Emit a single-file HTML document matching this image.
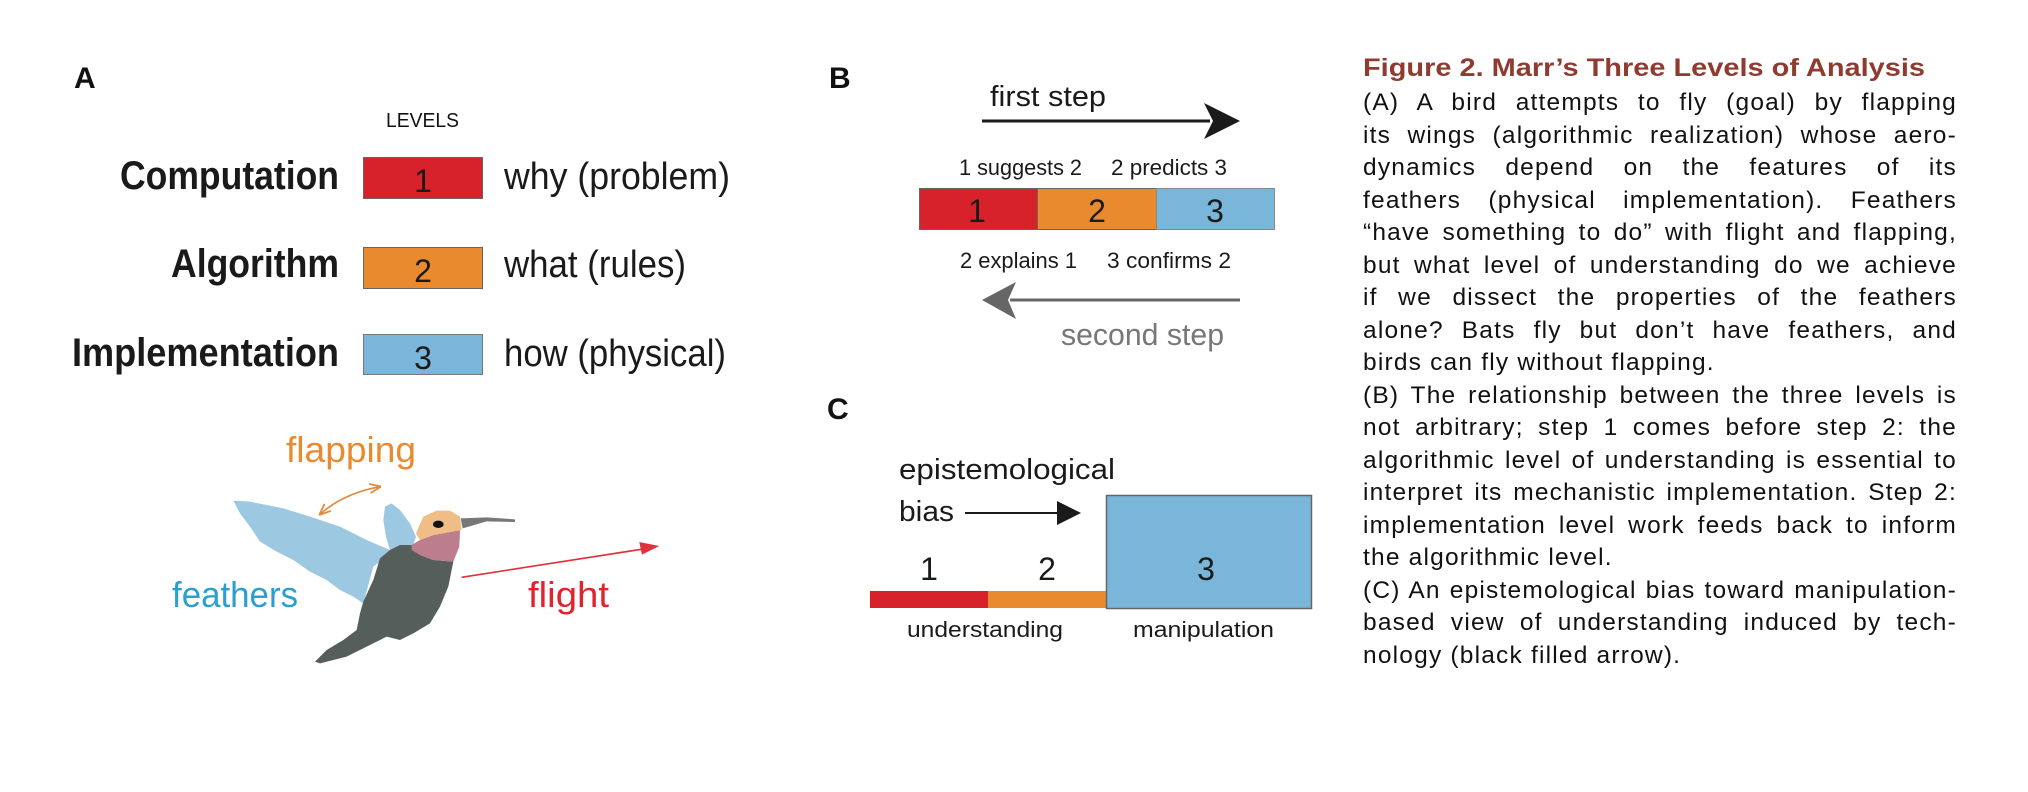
<!DOCTYPE html>
<html><head><meta charset="utf-8"><title>Marr's Three Levels of Analysis</title>
<style>
html,body{margin:0;padding:0;background:#fff;}
body{position:relative;width:2028px;height:792px;overflow:hidden;}
svg{display:block;position:absolute;left:0;top:0;}
text{font-family:"Liberation Sans",Arial,sans-serif;}
.cap{position:absolute;left:1363px;width:594px;font-family:"Liberation Sans",Arial,sans-serif;font-size:24.5px;line-height:32.5px;letter-spacing:1.2px;color:#111;}
.cap div{height:32.5px;text-align:justify;text-align-last:justify;white-space:nowrap;}
.cap div.l{text-align-last:left;}
</style></head>
<body>
<svg width="2028" height="792" viewBox="0 0 2028 792" xmlns="http://www.w3.org/2000/svg">
<defs>
<marker id="oh" viewBox="0 0 10 10" refX="9" refY="5" markerWidth="7" markerHeight="7" orient="auto-start-reverse"><path d="M0,1 L10,5 L0,9" fill="none" stroke="#e08a3c" stroke-width="1.5"/></marker>
</defs>

<g>
<text x="74" y="88" font-size="30" font-weight="bold" fill="#111">A</text>
<text x="386" y="127" font-size="20" fill="#111" textLength="73" lengthAdjust="spacingAndGlyphs">LEVELS</text>

<text x="339" y="189" font-size="40" font-weight="bold" fill="#1a1a1a" text-anchor="end" textLength="219" lengthAdjust="spacingAndGlyphs">Computation</text>
<rect x="363.5" y="157.5" width="119" height="41" fill="#d7222b" stroke="#666" stroke-width="1"/>
<text x="423" y="192" font-size="32" fill="#1a1a1a" text-anchor="middle">1</text>
<text x="504" y="189" font-size="38" fill="#1a1a1a" textLength="226" lengthAdjust="spacingAndGlyphs">why (problem)</text>

<text x="339" y="277" font-size="40" font-weight="bold" fill="#1a1a1a" text-anchor="end" textLength="168" lengthAdjust="spacingAndGlyphs">Algorithm</text>
<rect x="363.5" y="247.5" width="119" height="41" fill="#ea8a2f" stroke="#666" stroke-width="1"/>
<text x="423" y="282" font-size="32" fill="#1a1a1a" text-anchor="middle">2</text>
<text x="504" y="277" font-size="38" fill="#1a1a1a" textLength="182" lengthAdjust="spacingAndGlyphs">what (rules)</text>

<text x="339" y="366" font-size="40" font-weight="bold" fill="#1a1a1a" text-anchor="end" textLength="267" lengthAdjust="spacingAndGlyphs">Implementation</text>
<rect x="363.5" y="334.5" width="119" height="40" fill="#7ab6da" stroke="#777" stroke-width="1"/>
<text x="423" y="369" font-size="32" fill="#1a1a1a" text-anchor="middle">3</text>
<text x="504" y="366" font-size="38" fill="#1a1a1a" textLength="222" lengthAdjust="spacingAndGlyphs">how (physical)</text>

<text x="286" y="462" font-size="36" fill="#ea8a2f" textLength="130" lengthAdjust="spacingAndGlyphs">flapping</text>
<text x="172" y="607" font-size="36" fill="#2b9fd0" textLength="126" lengthAdjust="spacingAndGlyphs">feathers</text>
<text x="528" y="607" font-size="36" fill="#e0232d" textLength="81" lengthAdjust="spacingAndGlyphs">flight</text>
<g transform="translate(200,480) scale(0.3333)">
<path d="M360,103 Q430,40 540,20" fill="none" stroke="#e08a3c" stroke-width="5" marker-start="url(#oh)" marker-end="url(#oh)"/>
<path d="M100,62 L150,65 L250,85 L330,110 L420,140 L500,180 L570,210 L560,230 L520,260 L490,370 L460,350 L420,330 L380,300 L330,275 L280,240 L230,215 L180,185 L150,140 L120,100 Z" fill="#9dc8e1"/>
<path d="M555,80 L575,70 L600,90 L630,130 L648,170 L640,195 L600,210 L570,210 L558,170 L550,120 Z" fill="#9dc8e1"/>
<path d="M600,195 L635,195 L660,225 L700,240 L760,245 L745,320 L720,380 L690,430 L640,460 L600,480 L560,470 L500,500 L440,530 L360,550 L345,545 L380,510 L430,480 L470,450 L480,400 L490,365 L520,300 L540,235 L570,210 Z" fill="#555e5a"/>
<path d="M635,195 L660,180 L700,165 L740,158 L780,150 L778,200 L760,245 L700,240 L660,225 L635,210 Z" fill="#bc7d8c"/>
<path d="M648,160 L670,110 L710,92 L750,92 L780,110 L785,150 L740,158 L700,165 L660,180 Z" fill="#efbd85"/>
<ellipse cx="715" cy="133" rx="16" ry="11" fill="#111"/>
<path d="M782,115 L860,112 L945,118 L945,126 L860,124 L788,145 Z" fill="#777"/>
<line x1="785" y1="292" x2="1330" y2="207" stroke="#e0323a" stroke-width="5"/>
<path d="M1378,198 L1318,186 L1326,224 Z" fill="#e0323a"/>
</g>
</g>

<g>
<text x="829" y="88" font-size="30" font-weight="bold" fill="#111">B</text>
<text x="990" y="106" font-size="29" fill="#1a1a1a" textLength="116" lengthAdjust="spacingAndGlyphs">first step</text>
<line x1="982" y1="121" x2="1210" y2="121" stroke="#1a1a1a" stroke-width="3"/>
<path d="M1240,121 L1204,103 L1213,121 L1204,139 Z" fill="#1a1a1a"/>
<text x="959" y="175" font-size="22" fill="#1a1a1a" textLength="123" lengthAdjust="spacingAndGlyphs">1 suggests 2</text>
<text x="1111" y="175" font-size="22" fill="#1a1a1a" textLength="116" lengthAdjust="spacingAndGlyphs">2 predicts 3</text>
<rect x="919.5" y="188.5" width="118" height="41" fill="#d7222b" stroke="#666" stroke-width="1"/>
<rect x="1037.5" y="188.5" width="119" height="41" fill="#ea8a2f" stroke="#666" stroke-width="1"/>
<rect x="1156.5" y="188.5" width="118" height="41" fill="#7ab6da" stroke="#888" stroke-width="1"/>
<text x="977" y="222" font-size="32" fill="#1a1a1a" text-anchor="middle">1</text>
<text x="1097" y="222" font-size="32" fill="#1a1a1a" text-anchor="middle">2</text>
<text x="1215" y="222" font-size="32" fill="#1a1a1a" text-anchor="middle">3</text>
<text x="960" y="268" font-size="22" fill="#1a1a1a" textLength="117" lengthAdjust="spacingAndGlyphs">2 explains 1</text>
<text x="1107" y="268" font-size="22" fill="#1a1a1a" textLength="124" lengthAdjust="spacingAndGlyphs">3 confirms 2</text>
<line x1="1240" y1="300" x2="1010" y2="300" stroke="#666" stroke-width="3"/>
<path d="M982,300 L1016,282 L1008,300 L1016,319 Z" fill="#666"/>
<text x="1061" y="345" font-size="31" fill="#777" textLength="163" lengthAdjust="spacingAndGlyphs">second step</text>
</g>

<g>
<text x="827" y="419" font-size="30" font-weight="bold" fill="#111">C</text>
<text x="899" y="479" font-size="29" fill="#1a1a1a" textLength="216" lengthAdjust="spacingAndGlyphs">epistemological</text>
<text x="899" y="521" font-size="29" fill="#1a1a1a" textLength="55" lengthAdjust="spacingAndGlyphs">bias</text>
<line x1="965" y1="513" x2="1062" y2="513" stroke="#1a1a1a" stroke-width="2"/>
<path d="M1081,513 L1057,501 L1057,525 Z" fill="#1a1a1a"/>
<text x="929" y="580" font-size="32" fill="#1a1a1a" text-anchor="middle">1</text>
<text x="1047" y="580" font-size="32" fill="#1a1a1a" text-anchor="middle">2</text>
<rect x="870" y="591" width="118" height="17" fill="#d7222b"/>
<rect x="988" y="591" width="118" height="17" fill="#ea8a2f"/>
<rect x="1106.5" y="495.5" width="205" height="113" fill="#7ab6da" stroke="#666" stroke-width="1.5"/>
<text x="1206" y="580" font-size="32" fill="#1a1a1a" text-anchor="middle">3</text>
<text x="907" y="637" font-size="22" fill="#1a1a1a" textLength="156" lengthAdjust="spacingAndGlyphs">understanding</text>
<text x="1133" y="637" font-size="22" fill="#1a1a1a" textLength="141" lengthAdjust="spacingAndGlyphs">manipulation</text>
</g>

<text x="1363" y="76" font-size="25" font-weight="bold" fill="#8f3b30" textLength="562" lengthAdjust="spacingAndGlyphs">Figure 2.  Marr’s Three Levels of Analysis</text>
</svg>

<div class="cap" style="top:87px;">
<div>(A) A bird attempts to fly (goal) by flapping</div>
<div>its wings (algorithmic realization) whose aero-</div>
<div>dynamics depend on the features of its</div>
<div>feathers (physical implementation). Feathers</div>
<div>“have something to do” with flight and flapping,</div>
<div>but what level of understanding do we achieve</div>
<div>if we dissect the properties of the feathers</div>
<div>alone? Bats fly but don’t have feathers, and</div>
<div class="l">birds can fly without flapping.</div>
<div>(B) The relationship between the three levels is</div>
<div>not arbitrary; step 1 comes before step 2: the</div>
<div>algorithmic level of understanding is essential to</div>
<div>interpret its mechanistic implementation. Step 2:</div>
<div>implementation level work feeds back to inform</div>
<div class="l">the algorithmic level.</div>
<div>(C) An epistemological bias toward manipulation-</div>
<div>based view of understanding induced by tech-</div>
<div class="l">nology (black filled arrow).</div>
</div>
</body></html>
